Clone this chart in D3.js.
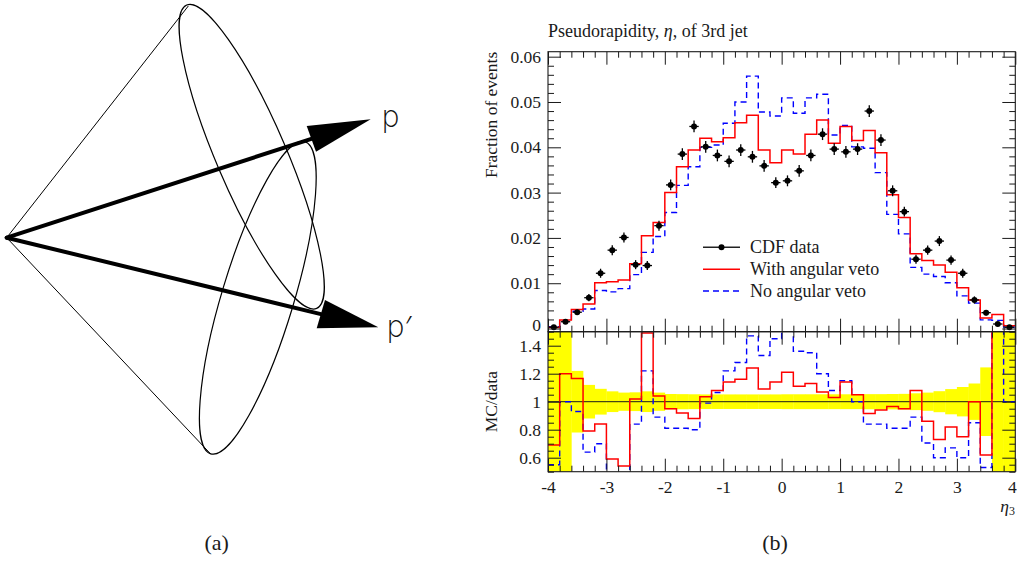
<!DOCTYPE html>
<html>
<head>
<meta charset="utf-8">
<script src="https://cdn.jsdelivr.net/npm/d3@7"></script>
<style>
  html, body { margin: 0; padding: 0; background: #fff; }
  svg { display: block; }
</style>
</head>
<body>
<svg id="fig" width="1017" height="576"></svg>
<script>
// ---------- histogram binning in η3 (width 0.2) ----------
const binEdges = [-4.0, -3.8, -3.6, -3.4, -3.2, -3.0, -2.8, -2.6, -2.4, -2.2,
                  -2.0, -1.8, -1.6, -1.4, -1.2, -1.0, -0.8, -0.6, -0.4, -0.2,
                   0.0,  0.2,  0.4,  0.6,  0.8,  1.0,  1.2,  1.4,  1.6,  1.8,
                   2.0,  2.2,  2.4,  2.6,  2.8,  3.0,  3.2,  3.4,  3.6,  3.8, 4.0];

// CDF data: fraction of events per bin and its uncertainty
const cdfData = [0.0003, 0.0015, 0.0036, 0.0068, 0.0122, 0.0173, 0.0201, 0.0141, 0.0139, 0.0227,
                 0.0317, 0.0385, 0.0446, 0.0401, 0.0382, 0.0369, 0.0394, 0.0379, 0.0359, 0.0322,
                 0.0326, 0.0348, 0.0382, 0.0429, 0.0396, 0.0390, 0.0396, 0.0480, 0.0416, 0.0304,
                 0.0258, 0.0153, 0.0173, 0.0193, 0.0151, 0.0122, 0.0063, 0.0035, 0.0010, 0.0003];
const cdfErr  = [0.0003, 0.0005, 0.0006, 0.0008, 0.0010, 0.0011, 0.0011, 0.0010, 0.0010, 0.0011,
                 0.0012, 0.0013, 0.0013, 0.0013, 0.0013, 0.0013, 0.0013, 0.0013, 0.0013, 0.0012,
                 0.0012, 0.0013, 0.0013, 0.0013, 0.0013, 0.0013, 0.0013, 0.0013, 0.0013, 0.0012,
                 0.0011, 0.0010, 0.0010, 0.0011, 0.0010, 0.0010, 0.0008, 0.0006, 0.0004, 0.0003];

// Monte Carlo predictions
const withVeto = [0.0002, 0.0019, 0.0042, 0.0054, 0.0101, 0.0103, 0.0107, 0.0143, 0.0205, 0.0234,
                  0.0300, 0.0357, 0.0394, 0.0420, 0.0412, 0.0421, 0.0454, 0.0471, 0.0394, 0.0366,
                  0.0394, 0.0385, 0.0429, 0.0460, 0.0409, 0.0446, 0.0415, 0.0437, 0.0388, 0.0295,
                  0.0245, 0.0165, 0.0150, 0.0140, 0.0124, 0.0090, 0.0063, 0.0023, 0.0031, 0.0006];
const noVeto   = [0.0004, 0.0017, 0.0038, 0.0043, 0.0084, 0.0081, 0.0088, 0.0119, 0.0168, 0.0203,
                  0.0256, 0.0316, 0.0357, 0.0400, 0.0405, 0.0453, 0.0500, 0.0557, 0.0478, 0.0469,
                  0.0509, 0.0475, 0.0509, 0.0517, 0.0427, 0.0448, 0.0401, 0.0398, 0.0344, 0.0252,
                  0.0209, 0.0135, 0.0120, 0.0115, 0.0101, 0.0072, 0.0056, 0.0019, 0.0018, 0.0003];

// MC/data ratios and relative data uncertainty band
const ratioWithVeto = [0.69, 1.20, 1.165, 0.79, 0.84, 0.59, 0.54, 1.02, 1.49, 1.04,
                       0.95, 0.92, 0.88, 1.035, 1.08, 1.14, 1.16, 1.24, 1.09, 1.14,
                       1.21, 1.11, 1.13, 1.07, 1.03, 1.14, 1.05, 0.915, 0.94, 0.965,
                       0.95, 1.08, 0.86, 0.73, 0.82, 0.75, 1.00, 0.62, 3.1, 2.0];
const ratioNoVeto   = [0.55, 1.00, 0.93, 0.64, 0.70, 0.46, 0.44, 0.84, 1.22, 0.89,
                       0.81, 0.81, 0.80, 0.99, 1.066, 1.22, 1.28, 1.47, 1.33, 1.45,
                       1.56, 1.36, 1.35, 1.20, 1.08, 1.15, 1.00, 0.84, 0.84, 0.81,
                       0.81, 0.89, 0.705, 0.60, 0.67, 0.60, 0.85, 0.53, 1.8, 1.0];
const dataBand      = [1.00, 1.00, 0.22, 0.12, 0.092, 0.074, 0.065, 0.067, 0.074, 0.065,
                       0.055, 0.054, 0.053, 0.052, 0.052, 0.052, 0.052, 0.052, 0.052, 0.052,
                       0.053, 0.053, 0.053, 0.053, 0.053, 0.053, 0.053, 0.054, 0.054, 0.055,
                       0.056, 0.060, 0.065, 0.075, 0.090, 0.105, 0.13, 0.245, 1.00, 1.00];

// axis tick values and labels
const xTickVals    = [-4, -3, -2, -1, 0, 1, 2, 3, 4];
const xTickLabels  = ["-4", "-3", "-2", "-1", "0", "1", "2", "3", "4"];
const topTickVals  = [0, 0.01, 0.02, 0.03, 0.04, 0.05, 0.06];
const topTickLabels = ["0", "0.01", "0.02", "0.03", "0.04", "0.05", "0.06"];
const ratioTickVals   = [0.6, 0.8, 1.0, 1.2, 1.4];
const ratioTickLabels = ["0.6", "0.8", "1", "1.2", "1.4"];

const legendLabels = ["CDF data", "With angular veto", "No angular veto"];

// ---------- layout ----------
const svg = d3.select("#fig");
svg.append("rect").attr("width", 1017).attr("height", 576).attr("fill", "#fff");

const SERIF = "'Liberation Serif', 'Times New Roman', serif";
const FS = 17.5;
const INK = "#1a1a1a";
const left = 548, right = 1015.3;
const topY0 = 51.7, topY1 = 331.7, ratY1 = 471.7;

const x = d3.scaleLinear().domain([-4, 4]).range([left, right]);
const yTop = d3.scaleLinear().domain([-0.0007, 0.0611]).range([topY1, topY0]);
const yRat = d3.scaleLinear().domain([0.5, 1.5]).range([ratY1, topY1]);

const MAJ = 13, MIN = 6;

function minorsBetween(lo, hi, step, majors) {
  const out = [];
  for (let v = lo; v <= hi + 1e-9; v += step) {
    const r = Math.round(v * 1e6) / 1e6;
    if (!majors.some(m => Math.abs(m - r) < 1e-9)) out.push(r);
  }
  return out;
}
const xMinor = minorsBetween(-4, 4, 0.2, xTickVals);
const topMinor = minorsBetween(0, 0.06, 0.002, topTickVals);
const ratMinor = minorsBetween(0.5, 1.5, 0.05, ratioTickVals);

function styleAxis(g) {
  g.select(".domain").remove();
  g.selectAll("line").attr("stroke", INK).attr("stroke-width", 1);
  g.selectAll("text").attr("font-family", SERIF).attr("font-size", FS).attr("fill", INK);
}

function panelFrame(yScale, yMaj, yMin, yLabels, y0, y1, withXLabels) {
  const g = svg.append("g");
  // left axis with labels
  const leftAx = g.append("g").attr("transform", `translate(${left},0)`)
    .call(d3.axisLeft(yScale).tickValues(yMaj).tickFormat((d, i) => yLabels[i]).tickSize(-MAJ).tickPadding(7))
    .call(styleAxis);
  // the zero label sits right above the ratio panel's top label; lift it slightly
  if (!withXLabels) leftAx.selectAll("text").filter(d => d === 0).attr("dy", "0.14em");
  g.append("g").attr("transform", `translate(${left},0)`)
    .call(d3.axisLeft(yScale).tickValues(yMin).tickFormat("").tickSize(-MIN)).call(styleAxis);
  // right axis
  g.append("g").attr("transform", `translate(${right},0)`)
    .call(d3.axisRight(yScale).tickValues(yMaj).tickFormat("").tickSize(-MAJ)).call(styleAxis);
  g.append("g").attr("transform", `translate(${right},0)`)
    .call(d3.axisRight(yScale).tickValues(yMin).tickFormat("").tickSize(-MIN)).call(styleAxis);
  // top axis
  g.append("g").attr("transform", `translate(0,${y0})`)
    .call(d3.axisTop(x).tickValues(xTickVals).tickFormat("").tickSize(-MAJ)).call(styleAxis);
  g.append("g").attr("transform", `translate(0,${y0})`)
    .call(d3.axisTop(x).tickValues(xMinor).tickFormat("").tickSize(-MIN)).call(styleAxis);
  // bottom axis
  const bottom = g.append("g").attr("transform", `translate(0,${y1})`)
    .call(d3.axisBottom(x).tickValues(xTickVals)
      .tickFormat(withXLabels ? (d, i) => xTickLabels[i] : "").tickSize(-MAJ).tickPadding(9))
    .call(styleAxis);
  // keep the last label inside the page edge
  bottom.selectAll("text").filter(d => d === 4).attr("dx", -3.5);
  g.append("g").attr("transform", `translate(0,${y1})`)
    .call(d3.axisBottom(x).tickValues(xMinor).tickFormat("").tickSize(-MIN)).call(styleAxis);
  g.append("rect").attr("x", left).attr("y", y0).attr("width", right - left).attr("height", y1 - y0)
    .attr("fill", "none").attr("stroke", INK).attr("stroke-width", 1.1);
}

function stepPoints(vals) {
  const pts = [];
  vals.forEach((v, i) => { pts.push([binEdges[i], v]); pts.push([binEdges[i + 1], v]); });
  return pts;
}

// ---------- ratio panel ----------
svg.append("defs").append("clipPath").attr("id", "ratioClip")
  .append("rect").attr("x", left).attr("y", topY1).attr("width", right - left).attr("height", ratY1 - topY1);

const rat = svg.append("g").attr("clip-path", "url(#ratioClip)");
rat.selectAll("rect.band").data(dataBand).join("rect").attr("class", "band")
  .attr("x", (d, i) => x(binEdges[i]))
  .attr("width", (d, i) => x(binEdges[i + 1]) - x(binEdges[i]) + 0.3)
  .attr("y", d => yRat(Math.min(1 + d, 1.5)))
  .attr("height", d => yRat(Math.max(1 - d, 0.5)) - yRat(Math.min(1 + d, 1.5)))
  .attr("fill", "#ffff00");
rat.append("line").attr("x1", left).attr("x2", right).attr("y1", yRat(1)).attr("y2", yRat(1))
  .attr("stroke", INK).attr("stroke-width", 1);

const lineRat = d3.line().x(d => x(d[0])).y(d => yRat(d[1]));
rat.append("path").attr("d", lineRat(stepPoints(ratioNoVeto)))
  .attr("fill", "none").attr("stroke", "#0000ff").attr("stroke-width", 1.4).attr("stroke-dasharray", "6,4");
rat.append("path").attr("d", lineRat(stepPoints(ratioWithVeto)))
  .attr("fill", "none").attr("stroke", "#ff0000").attr("stroke-width", 1.5);

panelFrame(yRat, ratioTickVals, ratMinor, ratioTickLabels, topY1, ratY1, true);

// ---------- main panel ----------
const lineTop = d3.line().x(d => x(d[0])).y(d => yTop(d[1]));
const main = svg.append("g");
main.append("path").attr("d", lineTop(stepPoints(noVeto)))
  .attr("fill", "none").attr("stroke", "#0000ff").attr("stroke-width", 1.4).attr("stroke-dasharray", "6,4");
main.append("path").attr("d", lineTop(stepPoints(withVeto)))
  .attr("fill", "none").attr("stroke", "#ff0000").attr("stroke-width", 1.5);

const pts = main.selectAll("g.pt").data(cdfData).join("g").attr("class", "pt");
const xc = (i) => (binEdges[i] + binEdges[i + 1]) / 2;
const halfW = 0.08;
pts.append("line")
  .attr("x1", (d, i) => x(xc(i))).attr("x2", (d, i) => x(xc(i)))
  .attr("y1", (d, i) => yTop(d - cdfErr[i])).attr("y2", (d, i) => yTop(d + cdfErr[i]))
  .attr("stroke", "#000").attr("stroke-width", 1.3);
pts.append("line")
  .attr("x1", (d, i) => x(xc(i) - halfW)).attr("x2", (d, i) => x(xc(i) + halfW))
  .attr("y1", d => yTop(d)).attr("y2", d => yTop(d))
  .attr("stroke", "#000").attr("stroke-width", 1.3);
pts.append("circle").attr("cx", (d, i) => x(xc(i))).attr("cy", d => yTop(d)).attr("r", 3).attr("fill", "#000");

panelFrame(yTop, topTickVals, topMinor, topTickLabels, topY0, topY1, false);

// ---------- legend ----------
const leg = svg.append("g").attr("font-family", SERIF).attr("font-size", 18).attr("fill", INK);
const legY = [247.3, 269.3, 291.0];
const legStyles = [
  { stroke: "#222", dash: null, dot: true },
  { stroke: "#ff0000", dash: null, dot: false },
  { stroke: "#0000ff", dash: "6,4", dot: false }
];
legendLabels.forEach((lab, i) => {
  const s = legStyles[i];
  leg.append("line").attr("x1", 703).attr("x2", 740).attr("y1", legY[i]).attr("y2", legY[i])
    .attr("stroke", s.stroke).attr("stroke-width", 1.5).attr("stroke-dasharray", s.dash);
  if (s.dot) leg.append("circle").attr("cx", 721.5).attr("cy", legY[i]).attr("r", 3).attr("fill", "#000");
  leg.append("text").attr("x", 750).attr("y", legY[i] + 6).text(lab);
});

// ---------- titles and axis labels ----------
svg.append("text").attr("x", 548).attr("y", 36.7).attr("font-family", SERIF).attr("font-size", 18).attr("fill", INK)
  .html("Pseudorapidity, <tspan font-style='italic'>η</tspan>, of 3rd jet");
svg.append("text").attr("transform", `translate(497,${topY0}) rotate(-90)`).attr("text-anchor", "end")
  .attr("font-family", SERIF).attr("font-size", FS).attr("fill", INK).text("Fraction of events");
svg.append("text").attr("transform", `translate(497,${yRat(1)}) rotate(-90)`).attr("text-anchor", "middle")
  .attr("font-family", SERIF).attr("font-size", FS).attr("fill", INK).text("MC/data");
const xl = svg.append("text").attr("x", 1015).attr("y", 512).attr("text-anchor", "end")
  .attr("font-family", SERIF).attr("font-size", FS).attr("fill", INK);
xl.append("tspan").attr("font-style", "italic").text("η");
xl.append("tspan").attr("font-size", 12).attr("dy", 3).text("3");

svg.append("text").attr("x", 216.7).attr("y", 550).attr("text-anchor", "middle")
  .attr("font-family", SERIF).attr("font-size", 22).attr("fill", INK).text("(a)");
svg.append("text").attr("x", 775).attr("y", 550).attr("text-anchor", "middle")
  .attr("font-family", SERIF).attr("font-size", 22).attr("fill", INK).text("(b)");

// ---------- panel (a): cone of angle around two momenta ----------
const cone = svg.append("g");
const apex = [6.7, 237.7];
const coneRims = [
  { cx: 251.7, cy: 156.7, rx: 165, ry: 35, rot: 66.8 },
  { cx: 257.8, cy: 297.8, rx: 163, ry: 36, rot: -73.2 }
];
const coneEdges = [[188.3, 6.0], [210.7, 454.0]];
coneEdges.forEach(p => {
  cone.append("line").attr("x1", apex[0]).attr("y1", apex[1]).attr("x2", p[0]).attr("y2", p[1])
    .attr("stroke", "#000").attr("stroke-width", 1);
});
cone.selectAll("ellipse").data(coneRims).join("ellipse")
  .attr("cx", d => d.cx).attr("cy", d => d.cy).attr("rx", d => d.rx).attr("ry", d => d.ry)
  .attr("transform", d => `rotate(${d.rot},${d.cx},${d.cy})`)
  .attr("fill", "none").attr("stroke", "#000").attr("stroke-width", 1.2);

const arrows = [
  { tip: [370.7, 119.3], b1: [306.7, 126.0], b2: [316.0, 151.7], label: "p",  lx: 381, ly: 127 },
  { tip: [378.3, 327.3], b1: [325.0, 300.0], b2: [316.7, 328.3], label: "p′", lx: 386, ly: 337 }
];
arrows.forEach(a => {
  const bm = [(a.b1[0] + a.b2[0]) / 2, (a.b1[1] + a.b2[1]) / 2];
  cone.append("line").attr("x1", apex[0]).attr("y1", apex[1]).attr("x2", bm[0]).attr("y2", bm[1])
    .attr("stroke", "#000").attr("stroke-width", 4).attr("stroke-linecap", "round");
  cone.append("path").attr("d", d3.line()([a.b1, a.tip, a.b2]) + "Z").attr("fill", "#000");
  cone.append("text").attr("x", a.lx).attr("y", a.ly)
    .attr("font-family", "'DejaVu Sans', 'Noto Sans', sans-serif").attr("font-weight", 300)
    .attr("font-size", 30).attr("fill", "#111").text(a.label);
});
</script>
</body>
</html>
